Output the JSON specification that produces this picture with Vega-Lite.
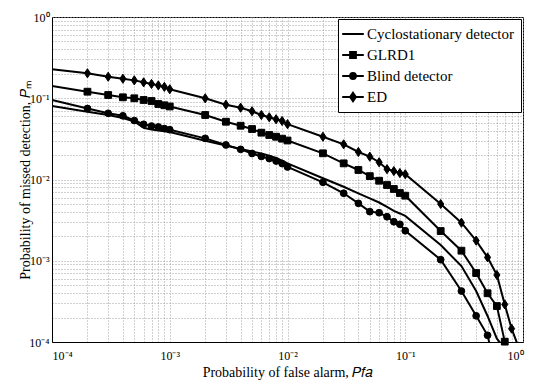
{
  "$schema": "https://vega.github.io/schema/vega-lite/v6.json",
  "autosize": "none",
  "width": 471,
  "height": 325,
  "padding": {"left": 52, "top": 17, "right": 19, "bottom": 43},
  "background": "white",
  "config": {
    "view": {"stroke": "black", "strokeWidth": 1},
    "font": "Liberation Serif",
    "legend": {"labelFont": "Liberation Serif", "titleFont": "Liberation Serif"},
    "axis": {
      "labelFont": "Liberation Serif",
      "titleFont": "Liberation Serif",
      "labelColor": "black",
      "titleColor": "black",
      "titleFontWeight": "normal",
      "labelFontSize": 12,
      "titleFontSize": 14,
      "domainColor": "black",
      "grid": true,
      "gridColor": "#a0a0a0",
      "gridDash": [1, 2],
      "gridWidth": 1,
      "ticks": false
    }
  },
  "data": {"values": [
    {"s": "Cyclostationary detector", "x": 0.0001, "y": 0.0803},
    {"s": "Cyclostationary detector", "x": 0.0002, "y": 0.0683},
    {"s": "Cyclostationary detector", "x": 0.0003, "y": 0.0622},
    {"s": "Cyclostationary detector", "x": 0.0004, "y": 0.0572},
    {"s": "Cyclostationary detector", "x": 0.0005, "y": 0.0518},
    {"s": "Cyclostationary detector", "x": 0.0006, "y": 0.0434},
    {"s": "Cyclostationary detector", "x": 0.0007, "y": 0.0412},
    {"s": "Cyclostationary detector", "x": 0.0008, "y": 0.0401},
    {"s": "Cyclostationary detector", "x": 0.0009, "y": 0.0393},
    {"s": "Cyclostationary detector", "x": 0.001, "y": 0.0384},
    {"s": "Cyclostationary detector", "x": 0.002, "y": 0.0300},
    {"s": "Cyclostationary detector", "x": 0.003, "y": 0.0262},
    {"s": "Cyclostationary detector", "x": 0.004, "y": 0.0237},
    {"s": "Cyclostationary detector", "x": 0.005, "y": 0.0221},
    {"s": "Cyclostationary detector", "x": 0.006, "y": 0.0209},
    {"s": "Cyclostationary detector", "x": 0.007, "y": 0.0196},
    {"s": "Cyclostationary detector", "x": 0.008, "y": 0.0184},
    {"s": "Cyclostationary detector", "x": 0.009, "y": 0.0171},
    {"s": "Cyclostationary detector", "x": 0.01, "y": 0.0158},
    {"s": "Cyclostationary detector", "x": 0.02, "y": 0.01035},
    {"s": "Cyclostationary detector", "x": 0.03, "y": 0.00815},
    {"s": "Cyclostationary detector", "x": 0.04, "y": 0.00676},
    {"s": "Cyclostationary detector", "x": 0.05, "y": 0.00587},
    {"s": "Cyclostationary detector", "x": 0.06, "y": 0.00521},
    {"s": "Cyclostationary detector", "x": 0.07, "y": 0.00459},
    {"s": "Cyclostationary detector", "x": 0.08, "y": 0.00410},
    {"s": "Cyclostationary detector", "x": 0.09, "y": 0.00382},
    {"s": "Cyclostationary detector", "x": 0.1, "y": 0.00356},
    {"s": "Cyclostationary detector", "x": 0.2, "y": 0.00156},
    {"s": "Cyclostationary detector", "x": 0.3, "y": 0.00086},
    {"s": "Cyclostationary detector", "x": 0.4, "y": 0.000424},
    {"s": "Cyclostationary detector", "x": 0.5, "y": 0.000209},
    {"s": "Cyclostationary detector", "x": 0.6, "y": 0.00011},
    {"s": "Cyclostationary detector", "x": 0.7, "y": 0.000083},

    {"s": "GLRD1", "x": 0.0001, "y": 0.1415},
    {"s": "GLRD1", "x": 0.0002, "y": 0.1204},
    {"s": "GLRD1", "x": 0.0003, "y": 0.1096},
    {"s": "GLRD1", "x": 0.0004, "y": 0.1027},
    {"s": "GLRD1", "x": 0.0005, "y": 0.0999},
    {"s": "GLRD1", "x": 0.0006, "y": 0.0952},
    {"s": "GLRD1", "x": 0.0007, "y": 0.0925},
    {"s": "GLRD1", "x": 0.0008, "y": 0.0850},
    {"s": "GLRD1", "x": 0.0009, "y": 0.0819},
    {"s": "GLRD1", "x": 0.001, "y": 0.0792},
    {"s": "GLRD1", "x": 0.002, "y": 0.0622},
    {"s": "GLRD1", "x": 0.003, "y": 0.0514},
    {"s": "GLRD1", "x": 0.004, "y": 0.0459},
    {"s": "GLRD1", "x": 0.005, "y": 0.0418},
    {"s": "GLRD1", "x": 0.006, "y": 0.0377},
    {"s": "GLRD1", "x": 0.007, "y": 0.0353},
    {"s": "GLRD1", "x": 0.008, "y": 0.0336},
    {"s": "GLRD1", "x": 0.009, "y": 0.0318},
    {"s": "GLRD1", "x": 0.01, "y": 0.0302},
    {"s": "GLRD1", "x": 0.02, "y": 0.0210},
    {"s": "GLRD1", "x": 0.03, "y": 0.0158},
    {"s": "GLRD1", "x": 0.04, "y": 0.0131},
    {"s": "GLRD1", "x": 0.05, "y": 0.0110},
    {"s": "GLRD1", "x": 0.06, "y": 0.00966},
    {"s": "GLRD1", "x": 0.07, "y": 0.00855},
    {"s": "GLRD1", "x": 0.08, "y": 0.00764},
    {"s": "GLRD1", "x": 0.09, "y": 0.00682},
    {"s": "GLRD1", "x": 0.1, "y": 0.00632},
    {"s": "GLRD1", "x": 0.2, "y": 0.00232},
    {"s": "GLRD1", "x": 0.3, "y": 0.00133},
    {"s": "GLRD1", "x": 0.4, "y": 0.000706},
    {"s": "GLRD1", "x": 0.5, "y": 0.000398},
    {"s": "GLRD1", "x": 0.6, "y": 0.000277},
    {"s": "GLRD1", "x": 0.7, "y": 0.000101},

    {"s": "Blind detector", "x": 0.0001, "y": 0.0952},
    {"s": "Blind detector", "x": 0.0002, "y": 0.0748},
    {"s": "Blind detector", "x": 0.0003, "y": 0.0653},
    {"s": "Blind detector", "x": 0.0004, "y": 0.0608},
    {"s": "Blind detector", "x": 0.0005, "y": 0.0532},
    {"s": "Blind detector", "x": 0.0006, "y": 0.0478},
    {"s": "Blind detector", "x": 0.0007, "y": 0.0455},
    {"s": "Blind detector", "x": 0.0008, "y": 0.0443},
    {"s": "Blind detector", "x": 0.0009, "y": 0.0424},
    {"s": "Blind detector", "x": 0.001, "y": 0.0410},
    {"s": "Blind detector", "x": 0.002, "y": 0.0321},
    {"s": "Blind detector", "x": 0.003, "y": 0.0266},
    {"s": "Blind detector", "x": 0.004, "y": 0.0235},
    {"s": "Blind detector", "x": 0.005, "y": 0.0209},
    {"s": "Blind detector", "x": 0.006, "y": 0.0192},
    {"s": "Blind detector", "x": 0.007, "y": 0.0181},
    {"s": "Blind detector", "x": 0.008, "y": 0.0169},
    {"s": "Blind detector", "x": 0.009, "y": 0.0157},
    {"s": "Blind detector", "x": 0.01, "y": 0.01426},
    {"s": "Blind detector", "x": 0.02, "y": 0.00924},
    {"s": "Blind detector", "x": 0.03, "y": 0.00677},
    {"s": "Blind detector", "x": 0.04, "y": 0.00509},
    {"s": "Blind detector", "x": 0.05, "y": 0.00402},
    {"s": "Blind detector", "x": 0.06, "y": 0.0039},
    {"s": "Blind detector", "x": 0.07, "y": 0.00348},
    {"s": "Blind detector", "x": 0.08, "y": 0.00302},
    {"s": "Blind detector", "x": 0.09, "y": 0.00281},
    {"s": "Blind detector", "x": 0.1, "y": 0.00234},
    {"s": "Blind detector", "x": 0.2, "y": 0.00103},
    {"s": "Blind detector", "x": 0.3, "y": 0.000424},
    {"s": "Blind detector", "x": 0.4, "y": 0.00021},
    {"s": "Blind detector", "x": 0.5, "y": 0.000121},
    {"s": "Blind detector", "x": 0.6, "y": 0.00004},

    {"s": "ED", "x": 0.0001, "y": 0.227},
    {"s": "ED", "x": 0.0002, "y": 0.203},
    {"s": "ED", "x": 0.0003, "y": 0.184},
    {"s": "ED", "x": 0.0004, "y": 0.174},
    {"s": "ED", "x": 0.0005, "y": 0.166},
    {"s": "ED", "x": 0.0006, "y": 0.157},
    {"s": "ED", "x": 0.0007, "y": 0.150},
    {"s": "ED", "x": 0.0008, "y": 0.144},
    {"s": "ED", "x": 0.0009, "y": 0.138},
    {"s": "ED", "x": 0.001, "y": 0.129},
    {"s": "ED", "x": 0.002, "y": 0.0998},
    {"s": "ED", "x": 0.003, "y": 0.0833},
    {"s": "ED", "x": 0.004, "y": 0.0765},
    {"s": "ED", "x": 0.005, "y": 0.0691},
    {"s": "ED", "x": 0.006, "y": 0.0622},
    {"s": "ED", "x": 0.007, "y": 0.0583},
    {"s": "ED", "x": 0.008, "y": 0.0551},
    {"s": "ED", "x": 0.009, "y": 0.0525},
    {"s": "ED", "x": 0.01, "y": 0.048},
    {"s": "ED", "x": 0.02, "y": 0.0336},
    {"s": "ED", "x": 0.03, "y": 0.0271},
    {"s": "ED", "x": 0.04, "y": 0.0218},
    {"s": "ED", "x": 0.05, "y": 0.0191},
    {"s": "ED", "x": 0.06, "y": 0.0163},
    {"s": "ED", "x": 0.07, "y": 0.0134},
    {"s": "ED", "x": 0.08, "y": 0.0127},
    {"s": "ED", "x": 0.09, "y": 0.0120},
    {"s": "ED", "x": 0.1, "y": 0.0116},
    {"s": "ED", "x": 0.2, "y": 0.00499},
    {"s": "ED", "x": 0.3, "y": 0.00294},
    {"s": "ED", "x": 0.4, "y": 0.00177},
    {"s": "ED", "x": 0.5, "y": 0.0011},
    {"s": "ED", "x": 0.6, "y": 0.000668},
    {"s": "ED", "x": 0.7, "y": 0.00029},
    {"s": "ED", "x": 0.8, "y": 0.000146},
    {"s": "ED", "x": 0.9, "y": 0.000093}
  ]},
  "encoding": {
    "x": {
      "field": "x", "type": "quantitative",
      "scale": {"type": "log", "domain": [0.0001, 1], "nice": false},
      "axis": {
        "title": "Probability of false alarm, 𝑃𝑓𝑎",
        "values": [0.0001,0.0002,0.0003,0.0004,0.0005,0.0006,0.0007,0.0008,0.0009,0.001,0.002,0.003,0.004,0.005,0.006,0.007,0.008,0.009,0.01,0.02,0.03,0.04,0.05,0.06,0.07,0.08,0.09,0.1,0.2,0.3,0.4,0.5,0.6,0.7,0.8,0.9,1],
        "labelExpr": "datum.value == 0.0001 ? '10⁻⁴' : datum.value == 0.001 ? '10⁻³' : datum.value == 0.01 ? '10⁻²' : datum.value == 0.1 ? '10⁻¹' : datum.value == 1 ? '10⁰' : ''",
        "labelPadding": 8,
        "labelOverlap": false,
        "titlePadding": 4
      }
    },
    "y": {
      "field": "y", "type": "quantitative",
      "scale": {"type": "log", "domain": [0.0001, 1], "nice": false},
      "axis": {
        "title": "Probability of missed detection, 𝑃ₘ",
        "values": [0.0001,0.0002,0.0003,0.0004,0.0005,0.0006,0.0007,0.0008,0.0009,0.001,0.002,0.003,0.004,0.005,0.006,0.007,0.008,0.009,0.01,0.02,0.03,0.04,0.05,0.06,0.07,0.08,0.09,0.1,0.2,0.3,0.4,0.5,0.6,0.7,0.8,0.9,1],
        "labelExpr": "datum.value == 0.0001 ? '10⁻⁴' : datum.value == 0.001 ? '10⁻³' : datum.value == 0.01 ? '10⁻²' : datum.value == 0.1 ? '10⁻¹' : datum.value == 1 ? '10⁰' : ''",
        "labelPadding": 3,
        "labelOverlap": false,
        "titlePadding": -4
      }
    }
  },
  "layer": [
    {
      "mark": {"type": "line", "clip": true, "color": "black", "strokeWidth": 2},
      "encoding": {"detail": {"field": "s"}}
    },
    {
      "transform": [{"filter": "datum.s != 'Cyclostationary detector' && datum.x >= 0.00015 && datum.y >= 0.000099"}],
      "mark": {"type": "point", "filled": true, "color": "black", "stroke": "black", "strokeWidth": 1, "opacity": 1, "size": 46},
      "encoding": {
        "shape": {
          "field": "s", "type": "nominal",
          "scale": {"domain": ["GLRD1", "Blind detector", "ED"], "range": ["square", "circle", "M0,-1.35L0.9,0L0,1.35L-0.9,0Z"]},
          "legend": null
        }
      }
    },
    {
      "transform": [{"filter": "datum.x > 5"}],
      "mark": {"type": "point", "filled": false, "color": "black", "strokeWidth": 2},
      "encoding": {
        "shape": {
          "field": "s", "type": "nominal",
          "scale": {"domain": ["Cyclostationary detector", "GLRD1", "Blind detector", "ED"],
                    "range": [
                      "M-1.35,0L1.35,0",
                      "M-1.35,0L1.35,0M-0.36,-0.36L0.36,-0.36L0.36,0.36L-0.36,0.36ZM-0.14,-0.14L0.14,-0.14L0.14,0.14L-0.14,0.14Z",
                      "M-1.35,0L1.35,0M0.36,0A0.36,0.36 0 1,1 -0.36,0A0.36,0.36 0 1,1 0.36,0ZM0.14,0A0.14,0.14 0 1,1 -0.14,0A0.14,0.14 0 1,1 0.14,0Z",
                      "M-1.35,0L1.35,0M0,-0.52L0.36,0L0,0.52L-0.36,0ZM0,-0.22L0.15,0L0,0.22L-0.15,0Z"
                    ]},
          "legend": {
            "title": null,
            "orient": "top-right",
            "offset": 2,
            "strokeColor": "black",
            "fillColor": "white",
            "padding": 6,
            "rowPadding": 4,
            "labelFontSize": 15,
            "labelColor": "black",
            "labelLimit": 300,
            "labelOffset": 5,
            "symbolSize": 256,
            "symbolOpacity": 1,
            "symbolStrokeWidth": 2,
            "symbolStrokeColor": "black",
            "symbolFillColor": "black"
          }
        }
      }
    }
  ],
  "resolve": {"scale": {"shape": "independent"}}
}
